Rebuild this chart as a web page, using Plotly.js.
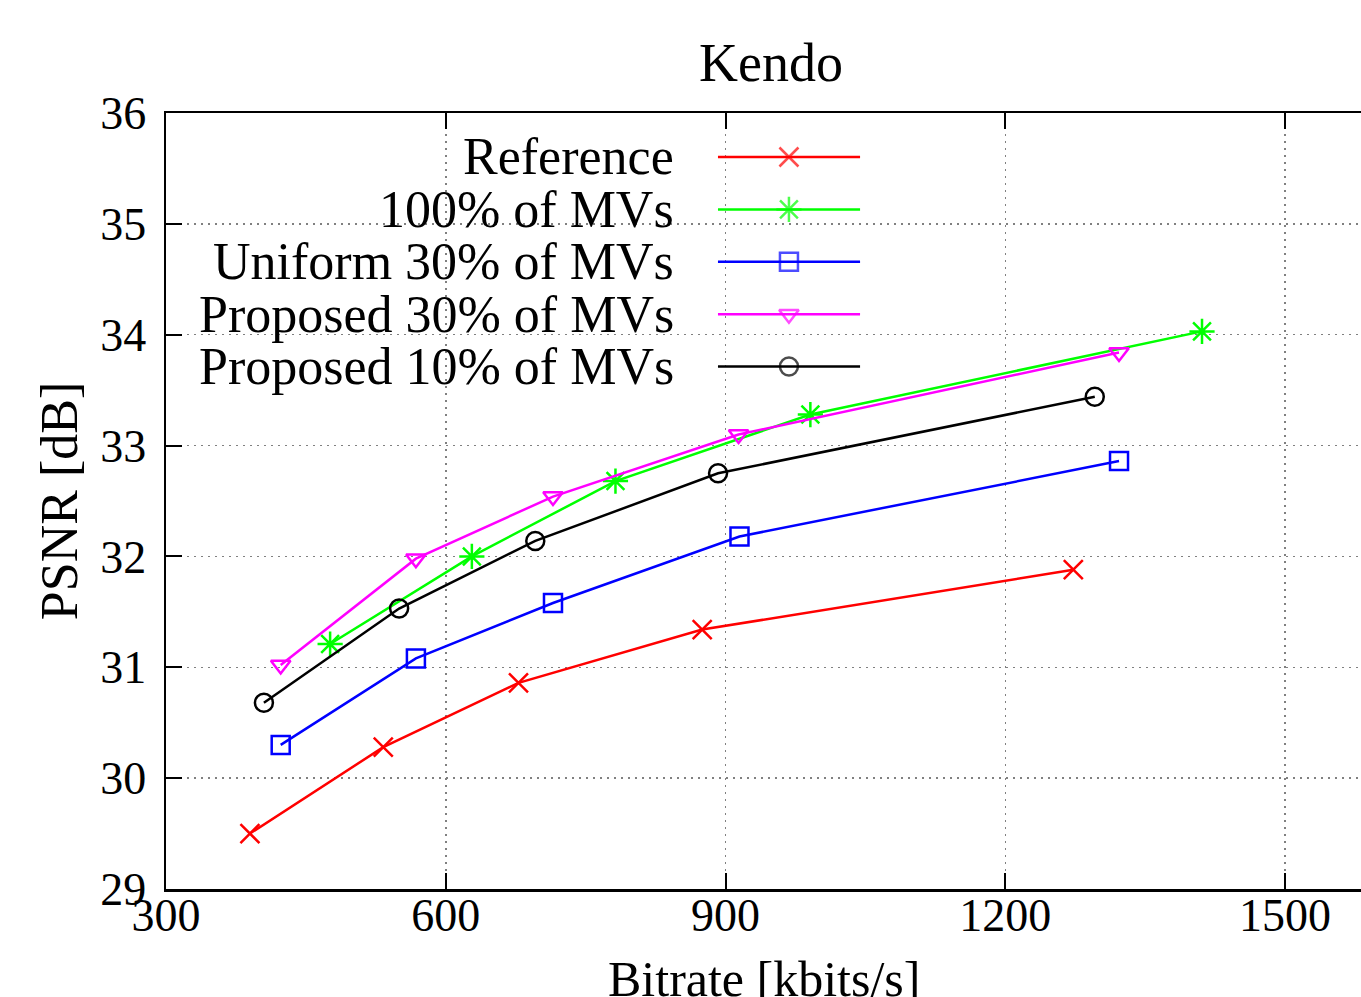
<!DOCTYPE html>
<html><head><meta charset="utf-8">
<script src="https://cdn.plot.ly/plotly-3.0.1.min.js"></script>
<style>html,body{margin:0;padding:0;background:#fff}#chart{width:1361px;height:997px}</style>
</head><body><div id="chart"></div>
<script>
// ---- data ----
const chartTitle = 'Kendo';
const xTitle = 'Bitrate [kbits/s]';
const yTitle = 'PSNR [dB]';
const seriesNames = ['Reference', '100% of MVs', 'Uniform 30% of MVs', 'Proposed 30% of MVs', 'Proposed 10% of MVs'];
const refBitrate   = [390, 533, 678, 875, 1273];
const refPSNR      = [29.50, 30.28, 30.86, 31.34, 31.88];
const allBitrate   = [476, 628, 782, 991, 1411];
const allPSNR      = [31.21, 32.00, 32.68, 33.28, 34.03];
const uni30Bitrate = [423, 568, 715, 915, 1322];
const uni30PSNR    = [30.30, 31.08, 31.58, 32.18, 32.86];
const pro30Bitrate = [423, 568, 715, 914, 1322];
const pro30PSNR    = [31.02, 31.98, 32.54, 33.10, 33.84];
const pro10Bitrate = [405, 550, 696, 892, 1296];
const pro10PSNR    = [30.68, 31.53, 32.14, 32.75, 33.44];
const xTickVals = [300, 600, 900, 1200, 1500];
const yTickVals = [29, 30, 31, 32, 33, 34, 35, 36];

// ---- styles ----
const xs = [refBitrate, allBitrate, uni30Bitrate, pro30Bitrate, pro10Bitrate];
const ys = [refPSNR, allPSNR, uni30PSNR, pro30PSNR, pro10PSNR];
const colors = ['#ff0000', '#00ff00', '#0000ff', '#ff00ff', '#000000'];
const symbols = ['x-thin-open', 'asterisk-open', 'square-open', 'triangle-down-open', 'circle-open'];
const sizes = [19, 21, 18, 17, 18];
const FONT = 'Liberation Serif, Times New Roman, serif';

const traces = [];
for (let i = 0; i < seriesNames.length; i++) {
  traces.push({
    x: xs[i], y: ys[i], name: seriesNames[i], type: 'scatter', mode: 'lines+markers',
    line: {color: colors[i], width: 2.5},
    marker: {symbol: symbols[i], size: sizes[i], color: colors[i], line: {color: colors[i], width: 2.5}},
    showlegend: false, cliponaxis: false
  });
}

// custom gnuplot-style key (text right-aligned, sample on the right)
const keyTextX = 0.4268, keyL = 0.4619, keyM = 0.5213, keyR = 0.5808;
const keyY0 = 0.9433, keyDY = 0.0675;
const annotations = [];
for (let i = 0; i < seriesNames.length; i++) {
  const yy = keyY0 - i * keyDY;
  annotations.push({xref: 'paper', yref: 'paper', x: keyTextX, y: yy, xanchor: 'right', yanchor: 'middle',
    text: seriesNames[i], showarrow: false, font: {family: FONT, size: 52, color: '#000'}});
  traces.push({
    x: [keyL, keyM, keyR], y: [yy, yy, yy], xaxis: 'x2', yaxis: 'y2', type: 'scatter', mode: 'lines+markers',
    line: {color: colors[i], width: 2.5},
    marker: {symbol: symbols[i], size: [0, sizes[i], 0], color: colors[i], line: {color: colors[i], width: 2.5}},
    showlegend: false, hoverinfo: 'skip', cliponaxis: false
  });
}
// x-axis title placed as in the reference (partly below the page edge)
annotations.push({xref: 'paper', yref: 'paper', x: 0.5, y: 0, xanchor: 'center', yanchor: 'top', yshift: -60,
  text: xTitle, showarrow: false, font: {family: FONT, size: 50, color: '#000'}});

const layout = {
  width: 1361, height: 997,
  margin: {l: 166, r: 0, t: 113, b: 108, pad: 0},
  paper_bgcolor: '#fff', plot_bgcolor: '#fff',
  font: {family: FONT, color: '#000', size: 46},
  title: {text: chartTitle, font: {family: FONT, size: 54, color: '#000'},
          xref: 'paper', x: 0.5063, xanchor: 'center', yref: 'container', y: 1 - 62 / 997, yanchor: 'middle'},
  showlegend: false,
  xaxis: {
    range: [300, 1581.5], tickvals: xTickVals, ticktext: xTickVals.map(String),
    showline: true, linecolor: '#000', linewidth: 2.5, mirror: 'ticks',
    ticks: 'inside', ticklen: 16, tickwidth: 2, tickcolor: '#000',
    showgrid: true, gridcolor: '#808080', gridwidth: 1.5, griddash: '2px,5px',
    zeroline: false, automargin: false, ticklabelstandoff: -16,
    tickfont: {family: FONT, size: 46, color: '#000'}
  },
  yaxis: {
    range: [29, 36], tickvals: yTickVals, ticktext: yTickVals.map(String),
    showline: true, linecolor: '#000', linewidth: 2.5, mirror: false,
    ticks: 'inside', ticklen: 16, tickwidth: 2, tickcolor: '#000',
    showgrid: true, gridcolor: '#808080', gridwidth: 1.5, griddash: '2px,5px',
    zeroline: false, automargin: false, ticklabelstandoff: 8,
    tickfont: {family: FONT, size: 46, color: '#000'},
    title: {text: yTitle, font: {family: FONT, size: 52, color: '#000'}, standoff: 6}
  },
  xaxis2: {overlaying: 'x', range: [0, 1], visible: false, fixedrange: true},
  yaxis2: {overlaying: 'y', range: [0, 1], visible: false, fixedrange: true},
  shapes: [{type: 'rect', xref: 'paper', yref: 'paper', x0: 0.002, x1: 0.6059, y0: 0.6392, y1: 0.997,
            fillcolor: '#fff', line: {width: 0}, layer: 'between'}],
  annotations: annotations
};

Plotly.newPlot('chart', traces, layout, {displayModeBar: false, staticPlot: true});
</script>
</body></html>
